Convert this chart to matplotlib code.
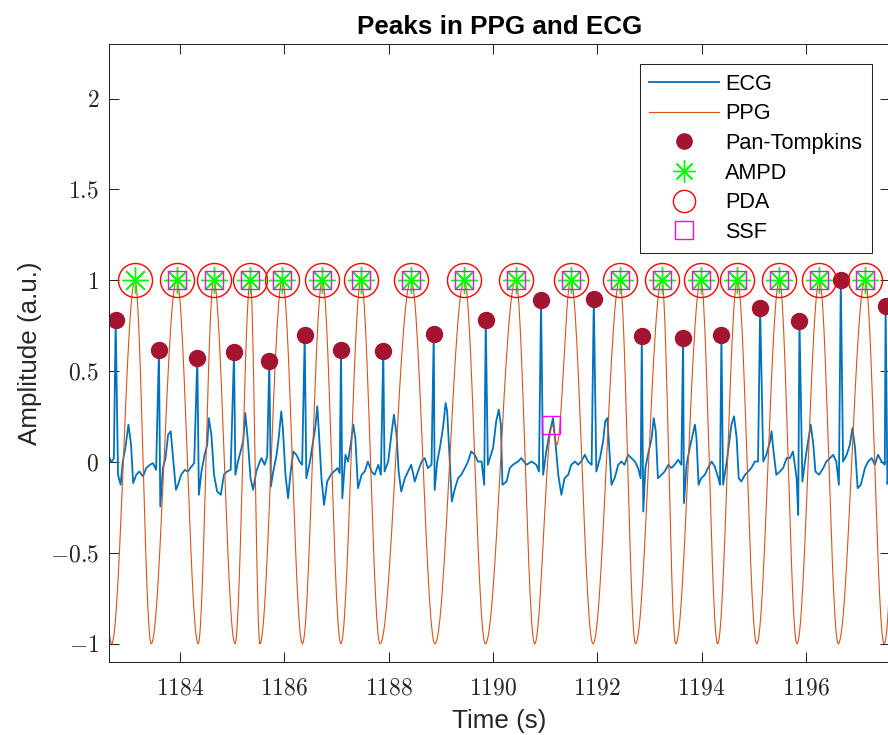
import numpy as np
import matplotlib
matplotlib.use('Agg')
import matplotlib.pyplot as plt
from matplotlib.ticker import FuncFormatter

plt.rcParams['font.family'] = ['Liberation Sans', 'DejaVu Sans']
plt.rcParams['mathtext.fontset'] = 'cm'

# ECG trace between the R waves (time in s, amplitude in a.u.)
ecg_t = [1182.62, 1182.68, 1182.73, 1182.81, 1182.86, 1182.90, 1182.95, 1183.01, 1183.06, 1183.10,
         1183.16, 1183.22, 1183.29, 1183.35, 1183.42, 1183.48, 1183.54, 1183.62, 1183.67, 1183.72,
         1183.77, 1183.82, 1183.86, 1183.92, 1183.96, 1184.02, 1184.09, 1184.15, 1184.22, 1184.27,
         1184.36, 1184.41, 1184.47, 1184.52, 1184.55, 1184.60, 1184.65, 1184.71, 1184.78, 1184.84,
         1184.90, 1184.97, 1185.06, 1185.11, 1185.16, 1185.21, 1185.25, 1185.30, 1185.35, 1185.40,
         1185.46, 1185.53, 1185.56, 1185.62, 1185.67, 1185.74, 1185.78, 1185.85, 1185.89, 1185.94,
         1185.97, 1186.02, 1186.07, 1186.12, 1186.17, 1186.23, 1186.29, 1186.34, 1186.42, 1186.49,
         1186.55, 1186.59, 1186.63, 1186.66, 1186.71, 1186.76, 1186.82, 1186.89, 1186.95, 1187.02,
         1187.06, 1187.11, 1187.17, 1187.22, 1187.27, 1187.32, 1187.36, 1187.41, 1187.48, 1187.54,
         1187.60, 1187.67, 1187.73, 1187.80, 1187.85, 1187.92, 1187.99, 1188.05, 1188.10, 1188.15,
         1188.19, 1188.24, 1188.31, 1188.37, 1188.43, 1188.50, 1188.56, 1188.63, 1188.69, 1188.75,
         1188.82, 1188.88, 1188.93, 1188.98, 1189.04, 1189.09, 1189.12, 1189.17, 1189.21, 1189.27,
         1189.33, 1189.39, 1189.46, 1189.52, 1189.58, 1189.65, 1189.71, 1189.78, 1189.83, 1189.90,
         1190.00, 1190.06, 1190.11, 1190.15, 1190.18, 1190.26, 1190.32, 1190.38, 1190.48, 1190.54,
         1190.64, 1190.74, 1190.83, 1190.88, 1190.96, 1191.02, 1191.09, 1191.15, 1191.20, 1191.25,
         1191.31, 1191.37, 1191.44, 1191.50, 1191.57, 1191.63, 1191.69, 1191.76, 1191.82, 1191.89,
         1191.98, 1192.05, 1192.11, 1192.15, 1192.19, 1192.22, 1192.27, 1192.33, 1192.40, 1192.46,
         1192.52, 1192.59, 1192.65, 1192.72, 1192.78, 1192.83, 1192.88, 1192.92, 1192.97, 1193.04,
         1193.08, 1193.12, 1193.16, 1193.23, 1193.29, 1193.36, 1193.42, 1193.48, 1193.55, 1193.61,
         1193.66, 1193.71, 1193.77, 1193.84, 1193.87, 1193.90, 1193.94, 1193.99, 1194.06, 1194.12,
         1194.19, 1194.25, 1194.32, 1194.35, 1194.41, 1194.48, 1194.52, 1194.57, 1194.62, 1194.67,
         1194.71, 1194.76, 1194.83, 1194.89, 1194.95, 1195.02, 1195.08, 1195.18, 1195.24, 1195.31,
         1195.34, 1195.37, 1195.43, 1195.50, 1195.56, 1195.63, 1195.69, 1195.75, 1195.82, 1195.85,
         1195.93, 1195.98, 1196.04, 1196.09, 1196.14, 1196.18, 1196.25, 1196.33, 1196.39, 1196.46,
         1196.52, 1196.58, 1196.63, 1196.71, 1196.78, 1196.84, 1196.89, 1196.94, 1196.99, 1197.05,
         1197.13, 1197.19, 1197.26, 1197.32, 1197.38, 1197.45, 1197.51, 1197.56, 1197.62]
ecg_v = [0.040, 0.000, 0.020, -0.070, -0.125, 0.000, 0.077, 0.206, 0.095, -0.116,
         -0.070, -0.052, -0.079, -0.033, -0.015, -0.006, -0.043, -0.245, -0.033, 0.022,
         0.150, 0.169, 0.040, -0.153, -0.125, -0.070, -0.043, -0.052, -0.024, -0.006,
         -0.180, -0.052, 0.040, 0.095, 0.242, 0.150, -0.070, -0.162, -0.180, -0.070,
         -0.052, -0.043, -0.070, 0.003, 0.058, 0.114, 0.270, 0.114, -0.089, -0.153,
         -0.052, 0.003, 0.022, -0.015, 0.031, -0.135, -0.061, 0.040, 0.132, 0.279,
         0.187, -0.070, -0.199, -0.052, 0.058, 0.040, 0.003, -0.015, -0.089, 0.003,
         0.114, 0.187, 0.307, 0.169, -0.089, -0.236, -0.107, -0.070, -0.052, -0.033,
         -0.061, -0.199, 0.040, 0.003, 0.095, 0.206, 0.132, -0.144, -0.070, -0.052,
         0.003, -0.052, -0.070, -0.015, -0.070, -0.052, 0.003, 0.150, 0.261, 0.150,
         -0.052, -0.162, -0.089, -0.052, -0.015, -0.107, -0.052, 0.003, 0.022, -0.033,
         -0.015, -0.153, 0.003, 0.077, 0.187, 0.325, 0.279, 0.003, -0.217, -0.144,
         -0.089, -0.070, -0.033, 0.003, 0.058, 0.040, 0.003, 0.003, -0.125, -0.015,
         0.077, 0.224, 0.288, 0.206, -0.125, -0.107, -0.033, -0.015, 0.003, 0.022,
         -0.015, 0.003, -0.015, -0.052, -0.070, 0.058, 0.169, 0.242, 0.095, -0.070,
         -0.180, -0.089, -0.070, -0.015, 0.003, -0.015, 0.003, 0.040, 0.003, -0.015,
         -0.052, 0.022, 0.114, 0.224, 0.242, 0.114, -0.125, -0.089, -0.015, 0.003,
         -0.015, 0.040, 0.022, 0.003, -0.033, -0.089, -0.272, -0.033, 0.040, 0.132,
         0.242, 0.169, -0.089, -0.070, -0.052, -0.015, -0.033, -0.015, 0.013, -0.015,
         -0.226, -0.015, 0.077, 0.169, 0.206, 0.132, -0.125, -0.089, -0.070, -0.033,
         0.003, -0.024, -0.089, -0.125, -0.125, 0.003, 0.095, 0.206, 0.252, 0.132,
         -0.089, -0.107, -0.070, -0.052, -0.033, 0.003, 0.003, 0.003, 0.040, 0.114,
         0.169, 0.077, -0.070, -0.052, -0.033, 0.022, 0.022, 0.058, -0.089, -0.291,
         -0.107, 0.003, 0.114, 0.206, 0.095, -0.052, -0.070, -0.033, 0.003, 0.022,
         0.040, 0.003, -0.125, 0.003, 0.040, 0.095, 0.187, 0.077, -0.144, -0.125,
         -0.033, 0.003, 0.022, -0.015, 0.040, 0.003, -0.015, -0.120, 0.000]

# Pan-Tompkins R peaks
pt_t = [1182.765, 1183.595, 1184.330, 1185.034, 1185.710, 1186.389, 1187.085, 1187.895,
        1188.863, 1189.860, 1190.920, 1191.931, 1192.851, 1193.643, 1194.378, 1195.120,
        1195.874, 1196.667, 1197.526]
pt_v = [0.779, 0.619, 0.572, 0.603, 0.555, 0.697, 0.619, 0.611, 0.702, 0.779,
        0.890, 0.897, 0.691, 0.680, 0.697, 0.847, 0.778, 1.000, 0.858]

# PPG turning points (peaks, troughs and the small bump near 1191.1 s)
ppg_turn_t = [1182.30, 1182.687, 1183.135, 1183.446, 1183.935, 1184.347, 1184.644, 1185.053,
              1185.346, 1185.530, 1185.960, 1186.345, 1186.727, 1187.083, 1187.469, 1187.833,
              1188.428, 1188.886, 1189.450, 1189.852, 1190.435, 1190.798, 1191.137, 1191.221,
              1191.490, 1191.916, 1192.430, 1192.731, 1193.235, 1193.502, 1193.983, 1194.305,
              1194.685, 1195.055, 1195.490, 1195.826, 1196.257, 1196.619, 1197.133, 1197.498,
              1197.90]
ppg_turn_v = [1, -1, 1, -1, 1, -1, 1, -1,
              1, -1, 1, -1, 1, -1, 1, -1,
              1, -1, 1, -1, 1, -1, 0.202, 0.095,
              1, -1, 1, -1, 1, -1, 1, -1,
              1, -1, 1, -1, 1, -1, 1, -1,
              1]

# detected PPG peaks
ampd_t = [1183.135, 1183.935, 1184.644, 1185.346, 1185.960, 1186.727, 1187.469, 1188.428,
          1189.450, 1190.435, 1191.490, 1192.430, 1193.235, 1193.983, 1194.685, 1195.490,
          1196.257, 1197.133]
ampd_v = [1] * len(ampd_t)
pda_t = list(ampd_t)
pda_v = [1] * len(pda_t)
ssf_t = ampd_t[1:10] + [1191.112] + ampd_t[10:]
ssf_v = [1] * 9 + [0.206] + [1] * 8

# build the traces
order = np.argsort(ecg_t + pt_t)
ecg_x = np.array(ecg_t + pt_t)[order]
ecg_y = np.array(ecg_v + pt_v)[order]

ppg_x, ppg_y = [], []
for k in range(len(ppg_turn_t) - 1):
    s = np.linspace(0, 1, 30)
    ppg_x.extend(ppg_turn_t[k] + (ppg_turn_t[k+1] - ppg_turn_t[k]) * s)
    ppg_y.extend(ppg_turn_v[k] + (ppg_turn_v[k+1] - ppg_turn_v[k]) * (1 - np.cos(np.pi * s)) / 2)

fig = plt.figure(figsize=(8.88, 7.35), dpi=100)
ax = fig.add_axes([109/888, 73/735, 781/888, 618/735])

ax.plot(ecg_x, ecg_y, color='#0072BD', lw=1.3, label='ECG')
ax.plot(ppg_x, ppg_y, color='#D95319', lw=0.8, label='PPG')
ax.plot(pt_t, pt_v, 'o', color='#A2142F', ms=11.5, mec='#A2142F', label='Pan-Tompkins')
ax.plot(ampd_t, ampd_v, ls='none', marker=(8, 2, 0), color='#00FF00', ms=19, mew=1.0, label='AMPD')
ax.plot(pda_t, pda_v, 'o', mfc='none', mec='#FF0000', ms=24.5, mew=1.0, label='PDA')
ax.plot(ssf_t, ssf_v, 's', mfc='none', mec='#FF00FF', ms=13.5, mew=1.0, label='SSF')

ax.set_xlim(1182.637, 1197.61)
ax.set_ylim(-1.1, 2.3)
ax.set_xticks(np.arange(1184, 1197, 2))
ax.set_yticks([-1, -0.5, 0, 0.5, 1, 1.5, 2])
ax.xaxis.set_major_formatter(FuncFormatter(lambda v, p: r'$%g$' % v))
ax.yaxis.set_major_formatter(FuncFormatter(lambda v, p: r'$%g$' % v))
ax.tick_params(direction='in', top=True, right=True, length=7, width=0.75,
               labelsize=17, colors='#262626')
ax.tick_params(axis='x', pad=11)
ax.tick_params(axis='y', pad=7)
for sp in ax.spines.values():
    sp.set_color('#262626')
    sp.set_linewidth(0.75)

ax.set_xlabel('Time (s)', fontsize=18.7, color='#262626', labelpad=7)
ax.set_ylabel('Amplitude (a.u.)', fontsize=18.7, color='#262626', labelpad=6)
ax.set_title('Peaks in PPG and ECG', fontsize=18.7, fontweight='bold', pad=7)

leg = ax.legend(loc='upper right', bbox_to_anchor=(0.977, 0.968), borderaxespad=0,
                fontsize=15.6, fancybox=False, framealpha=1, edgecolor='#262626',
                handlelength=3.2, handletextpad=0.3, labelspacing=0.40, borderpad=0.45)
leg.get_frame().set_linewidth(0.75)
hs = leg.legend_handles
hs[2].set_markersize(11)
hs[3].set_markersize(16)
hs[4].set_markersize(16)
hs[5].set_markersize(13)

fig.savefig('out.png', dpi=100)
